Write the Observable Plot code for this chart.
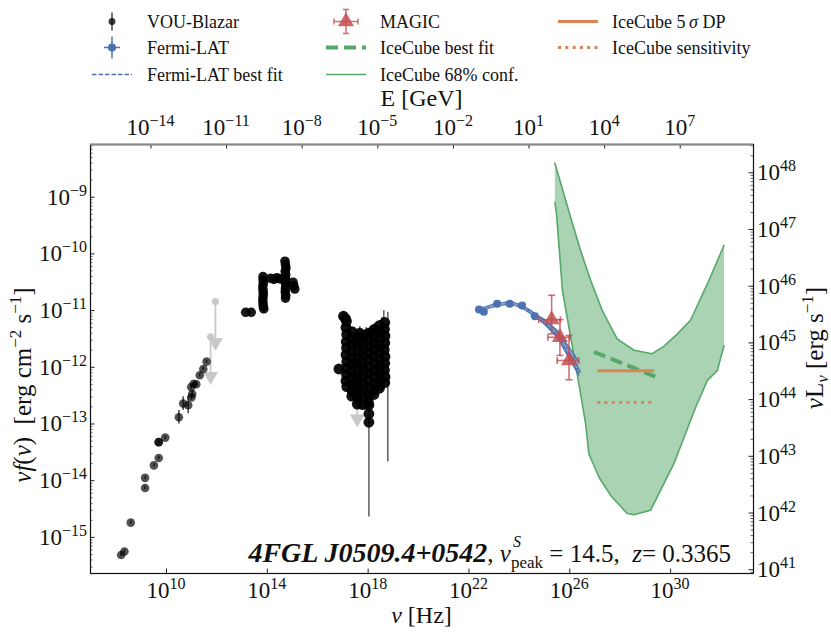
<!DOCTYPE html>
<html><head><meta charset="utf-8">
<script src="https://cdn.jsdelivr.net/npm/d3@7"></script>
<script src="https://cdn.jsdelivr.net/npm/@observablehq/plot@0.6"></script>
<style>
body{margin:0;background:#fff;}
svg{font-family:"Liberation Serif","DejaVu Serif",serif;}
text{white-space:pre;}
</style>
</head><body><div id="chart"></div>
<script>
// ---------------- DATA (log10 ν [Hz], log10 νFν [erg cm^-2 s^-1]) ----------------
// VOU-Blazar radio / mm points: [logν, logF, err(dex)]
const vouRadio = [
 [8.20,-15.31,0.03],[8.33,-15.25,0.03],[8.58,-14.74,0.03],[9.15,-13.95,0.03],[9.15,-14.13,0.03],
 [9.50,-13.73,0.03],[9.69,-13.60,0.03],[9.69,-13.32,0.02],[9.69,-13.32,0.02],[9.95,-13.24,0.03],
 [10.49,-12.88,0.12],[10.66,-12.64,0.12],[10.86,-12.67,0.15],[10.99,-12.53,0.05],[11.02,-12.47,0.05],
 [10.98,-12.35,0.04],[11.18,-12.30,0.03],[11.08,-12.29,0.03],[11.32,-12.14,0.03],[11.46,-12.03,0.03],[11.59,-11.90,0.03]
];
// VOU-Blazar IR / optical / UV points
const vouOptical = [
 [13.14,-11.03],[13.36,-11.03],[13.86,-10.97],
 [13.83,-10.40],[13.83,-10.46],[13.84,-10.52],[13.82,-10.58],[13.83,-10.64],[13.84,-10.70],[13.83,-10.76],[13.82,-10.82],[13.83,-10.88],[13.84,-10.93],
 [14.13,-10.43],[14.26,-10.45],[14.38,-10.42],[14.50,-10.44],
 [14.70,-10.13],[14.72,-10.19],[14.74,-10.25],[14.71,-10.31],[14.73,-10.37],[14.72,-10.43],[14.70,-10.49],[14.73,-10.55],[14.72,-10.61],[14.71,-10.67],[14.73,-10.73],[14.72,-10.78],
 [15.02,-10.50],[15.09,-10.62],[15.05,-10.56]
];
// VOU-Blazar X-ray points
const vouXray = [
 [17.02,-11.10],[17.10,-11.14],[16.84,-12.03],[17.57,-12.22],
 [17.14,-11.19],[17.12,-11.30],[17.15,-11.42],[17.13,-11.55],[17.14,-11.66],[17.12,-11.78],[17.15,-11.90],[17.13,-12.02],[17.14,-12.13],[17.12,-12.24],[17.15,-12.34],
 [17.36,-11.37],[17.35,-11.48],[17.37,-11.60],[17.36,-11.72],[17.34,-11.83],[17.37,-11.95],[17.36,-12.07],[17.35,-12.18],[17.37,-12.30],[17.36,-12.42],[17.35,-12.51],
 [17.58,-11.47],[17.57,-11.58],[17.59,-11.70],[17.58,-11.82],[17.56,-11.93],[17.59,-12.05],[17.58,-12.17],[17.57,-12.29],[17.59,-12.41],[17.58,-12.54],[17.57,-12.65],
 [17.80,-11.46],[17.79,-11.57],[17.81,-11.69],[17.80,-11.80],[17.78,-11.92],[17.81,-12.04],[17.80,-12.16],[17.79,-12.28],[17.81,-12.40],[17.80,-12.52],[17.79,-12.66],
 [18.02,-11.40],[18.01,-11.52],[18.03,-11.63],[18.02,-11.75],[18.00,-11.87],[18.03,-11.99],[18.02,-12.11],[18.01,-12.23],[18.03,-12.36],[18.02,-12.49],[18.01,-12.61],
 [18.24,-11.33],[18.23,-11.45],[18.25,-11.57],[18.24,-11.69],[18.22,-11.81],[18.25,-11.93],[18.24,-12.05],[18.23,-12.17],[18.25,-12.29],[18.24,-12.40],[18.23,-12.48],
 [18.46,-11.26],[18.45,-11.37],[18.47,-11.49],[18.46,-11.61],[18.44,-11.73],[18.47,-11.85],[18.46,-11.97],[18.45,-12.09],[18.47,-12.21],[18.46,-12.30],[18.45,-12.37],
 [18.66,-11.21],[18.65,-11.33],[18.67,-11.45],[18.66,-11.57],[18.64,-11.69],[18.67,-11.81],[18.66,-11.93],[18.65,-12.05],[18.67,-12.17],[18.66,-12.27],
 [18.03,-12.67],[18.03,-12.82],[18.03,-12.97],[17.67,-11.40],[17.92,-11.43],[18.25,-11.35]
];
// X-ray error bars: [logν, logF high, logF low]
const vouXrayErr = [
 [18.78,-11.03,-13.67],[18.03,-12.40,-14.64],[17.67,-11.28,-11.55],[17.92,-11.30,-11.56],
 [18.25,-11.22,-11.50],[18.55,-11.12,-11.45],[18.62,-11.00,-11.40]
];
// VOU-Blazar upper limits: [logν, logF, arrow tip logF]
const vouUpperLimits = [[11.75,-11.46,-12.22],[11.94,-10.84,-11.62],[17.57,-12.45,-12.97]];

// Fermi-LAT points: [logν, logF, half bin width (dex)]
const fermiPoints = [[22.40,-10.98,0.12],[22.59,-11.02,0.15],[23.12,-10.88,0.15],[23.62,-10.88,0.15],[24.11,-10.91,0.15],[24.62,-11.10,0.15]];
// Fermi-LAT best fit (log-parabola)
const fermiFit = [
 [22.35,-11.00],[22.6,-10.96],[22.9,-10.92],[23.2,-10.89],[23.5,-10.87],[23.8,-10.88],[24.1,-10.93],
 [24.4,-11.01],[24.7,-11.11],[25.0,-11.20],[25.3,-11.31],[25.6,-11.46],[25.9,-11.69],[26.2,-11.94],[26.36,-12.07]
];
// Fermi-LAT fit uncertainty band: [logν, logF low, logF high]
const fermiBand = [
 [24.3,-11.00,-10.96],[24.6,-11.10,-11.05],[25.0,-11.24,-11.16],[25.5,-11.47,-11.35],
 [26.0,-11.86,-11.66],[26.36,-12.14,-11.90]
];
// MAGIC: [logν, logF, ν low, ν high, F low, F high]
const magicPoints = [
 [25.28,-11.16,24.77,25.63,-11.41,-10.73],
 [25.61,-11.47,25.13,26.00,-11.79,-11.16],
 [25.97,-11.88,25.50,26.36,-12.22,-11.44]
];
// IceCube 68% confidence region edges
const iceUpper = [
 [25.41,-8.40],[26.03,-9.35],[26.43,-9.94],[26.83,-10.47],[27.29,-11.00],[27.88,-11.50],
 [28.55,-11.70],[29.27,-11.76],[29.73,-11.63],[30.27,-11.41],[30.79,-11.17],[31.46,-10.53],[32.12,-9.85]
];
const iceLower = [
 [25.41,-9.09],[25.48,-9.32],[25.71,-10.65],[26.06,-11.53],[26.36,-12.29],[26.63,-13.00],[26.76,-13.53],
 [27.16,-13.94],[27.62,-14.26],[28.28,-14.58],[28.54,-14.60],[29.21,-14.52],[30.13,-13.70],
 [31.00,-12.70],[31.46,-12.23],[31.85,-12.06],[32.12,-11.62]
];
const iceBestFit = [[26.96,-11.73],[29.54,-12.19]];
const ice5sigmaDP = [[27.09,-12.06],[29.34,-12.06]];
const iceSensitivity = [[27.09,-12.62],[29.34,-12.62]];

// axis tick exponents
const xTickExp = [10,14,18,22,26,30];
const yTickExp = [-15,-14,-13,-12,-11,-10,-9];
const eTickExp = [-14,-11,-8,-5,-2,1,4,7];
const lTickExp = [41,42,43,44,45,46,47,48];
const lumOffset = 56.57;   // log10(4π d_L^2), z = 0.3365
const eOffset = 23.3834;   // log10(1 GeV / h) in Hz

// ---------------- PLOT ----------------
const W = 831, H = 636;
const mL = 90, mR = 78, mT = 144, mB = 63;
const fw = W - mL - mR, fh = H - mT - mB;
const green = "#55A868", blue = "#4C72B0", red = "#C44E52", orange = "#DD8452", ulGray = "#c8c8c8";
const P = ([a, b]) => ({x: 10 ** a, y: 10 ** b});

const hCap = {draw(ctx){ ctx.moveTo(-3.5, 0); ctx.lineTo(3.5, 0); }};
const vCap = {draw(ctx){ ctx.moveTo(0, -3.5); ctx.lineTo(0, 3.5); }};

const yDom = [10 ** -15.637, 10 ** -8.0705];
const xDom = [10 ** 6.984, 10 ** 33.29];
const inY = v => v >= yDom[0] && v <= yDom[1];

const yMinor = [];
for (let k = -16; k <= -8; k++) for (let m = 2; m <= 9; m++) { const v = m * 10 ** k; if (inY(v)) yMinor.push(v); }
const rMinor = [];
for (let k = 40; k <= 48; k++) for (let m = 2; m <= 9; m++) { const v = m * 10 ** (k - lumOffset); if (inY(v)) rMinor.push(v); }
const rMajor = lTickExp.map(k => 10 ** (k - lumOffset)).filter(inY);
const eMajor = eTickExp.map(k => 10 ** (k + eOffset));

const magic = magicPoints.map(d => ({x: 10**d[0], y: 10**d[1], x1: 10**d[2], x2: 10**d[3], y1: 10**d[4], y2: 10**d[5]}));

const plot = Plot.plot({
  width: W, height: H,
  marginLeft: mL, marginRight: mR, marginTop: mT, marginBottom: mB,
  x: {type: "log", domain: xDom, axis: null},
  y: {type: "log", domain: yDom, axis: null},
  style: {background: "#fff"},
  marks: [
    // IceCube 68% band
    Plot.line([...iceUpper, ...iceLower.slice().reverse()].map(P), {x: "x", y: "y", fill: green, fillOpacity: 0.5, stroke: "none"}),
    Plot.line(iceUpper.map(P), {x: "x", y: "y", stroke: green, strokeWidth: 1.6}),
    Plot.line(iceLower.map(P), {x: "x", y: "y", stroke: green, strokeWidth: 1.6}),
    // VOU upper limits
    Plot.ruleX(vouUpperLimits, {x: d => 10**d[0], y1: d => 10**d[1], y2: d => 10**d[2], stroke: ulGray, strokeWidth: 1.8}),
    Plot.dot(vouUpperLimits, {x: d => 10**d[0], y: d => 10**d[1], r: 3.5, fill: ulGray}),
    Plot.dot(vouUpperLimits, {x: d => 10**d[0], y: d => 10**(d[2] + 0.06), r: 5.5, symbol: "triangle", rotate: 180, fill: ulGray}),
    // VOU radio
    Plot.ruleX(vouRadio, {x: d => 10**d[0], y1: d => 10**(d[1]-d[2]), y2: d => 10**(d[1]+d[2]), stroke: "#444", strokeWidth: 1.5}),
    Plot.dot(vouRadio, {x: d => 10**d[0], y: d => 10**d[1], r: 4.3, fill: "#000", fillOpacity: 0.68}),
    // VOU optical
    Plot.dot(vouOptical, {x: d => 10**d[0], y: d => 10**d[1], r: 4.8, fill: "#000", fillOpacity: 0.9}),
    // VOU X-ray
    Plot.ruleX(vouXrayErr, {x: d => 10**d[0], y1: d => 10**d[1], y2: d => 10**d[2], stroke: "#000", strokeOpacity: 0.6, strokeWidth: 1.6}),
    Plot.dot(vouXray, {x: d => 10**d[0], y: d => 10**d[1], r: 5.4, fill: "#000", fillOpacity: 0.93}),
    // Fermi-LAT
    Plot.areaY(fermiBand, {x: d => 10**d[0], y1: d => 10**d[1], y2: d => 10**d[2], fill: blue, fillOpacity: 0.35}),
    Plot.line(fermiBand, {x: d => 10**d[0], y: d => 10**d[1], stroke: blue, strokeWidth: 1.3}),
    Plot.line(fermiBand, {x: d => 10**d[0], y: d => 10**d[2], stroke: blue, strokeWidth: 1.3}),
    Plot.line(fermiFit.map(P), {x: "x", y: "y", stroke: blue, strokeWidth: 4, strokeOpacity: 0.85}),
    Plot.line(fermiFit.map(P), {x: "x", y: "y", stroke: "#9fb3d8", strokeWidth: 1, strokeDasharray: "4,2", strokeLinecap: "butt"}),
    Plot.ruleY(fermiPoints, {y: d => 10**d[1], x1: d => 10**(d[0]-d[2]), x2: d => 10**(d[0]+d[2]), stroke: blue, strokeWidth: 2}),
    Plot.dot(fermiPoints, {x: d => 10**d[0], y: d => 10**d[1], r: 4, fill: blue}),
    // MAGIC
    Plot.ruleX(magic, {x: "x", y1: "y1", y2: "y2", stroke: red, strokeOpacity: 0.8, strokeWidth: 1.6}),
    Plot.ruleY(magic, {y: "y", x1: "x1", x2: "x2", stroke: red, strokeOpacity: 0.8, strokeWidth: 1.6}),
    Plot.dot(magic, {x: "x", y: "y1", symbol: hCap, stroke: red, strokeOpacity: 0.8, strokeWidth: 1.6}),
    Plot.dot(magic, {x: "x", y: "y2", symbol: hCap, stroke: red, strokeOpacity: 0.8, strokeWidth: 1.6}),
    Plot.dot(magic, {x: "x1", y: "y", symbol: vCap, stroke: red, strokeOpacity: 0.8, strokeWidth: 1.6}),
    Plot.dot(magic, {x: "x2", y: "y", symbol: vCap, stroke: red, strokeOpacity: 0.8, strokeWidth: 1.6}),
    Plot.dot(magic, {x: "x", y: "y", symbol: "triangle", r: 6, fill: red, fillOpacity: 0.85}),
    // IceCube lines
    Plot.line(iceBestFit.map(P), {x: "x", y: "y", stroke: green, strokeWidth: 4, strokeDasharray: "12,6", strokeLinecap: "butt"}),
    Plot.line(ice5sigmaDP.map(P), {x: "x", y: "y", stroke: orange, strokeWidth: 3, strokeLinecap: "butt"}),
    Plot.line(iceSensitivity.map(P), {x: "x", y: "y", stroke: orange, strokeWidth: 3, strokeDasharray: "3,4.3", strokeLinecap: "butt"}),
    // ticks (inward)
    Plot.ruleX(xTickExp.map(k => 10**k), {insetTop: fh - 4.5, stroke: "#222"}),
    Plot.ruleX(eMajor, {insetBottom: fh - 4.5, stroke: "#222"}),
    Plot.ruleY(yTickExp.map(k => 10**k), {insetRight: fw - 4.5, stroke: "#222"}),
    Plot.ruleY(yMinor, {insetRight: fw - 2.5, stroke: "#444", strokeWidth: 0.8}),
    Plot.ruleY(rMajor, {insetLeft: fw - 4.5, stroke: "#222"}),
    Plot.ruleY(rMinor, {insetLeft: fw - 2.5, stroke: "#444", strokeWidth: 0.8}),
    Plot.frame({stroke: "#111", strokeWidth: 1.2}),
    Plot.ruleY([yDom[1]], {stroke: "#888", strokeWidth: 2})
  ]
});
document.getElementById("chart").appendChild(plot);

// ---------------- TEXT: tick labels, axis labels, legend ----------------
const svg = d3.select(plot);
const xs = plot.scale("x"), ys = plot.scale("y");
const g = svg.append("g").attr("fill", "#111").attr("text-anchor", "start");

function rich(parent, parts, attrs) {
  const t = parent.append("text");
  for (const k in attrs) t.attr(k, attrs[k]);
  parts.forEach(p => {
    const s = t.append("tspan").text(p.t);
    if (p.style) s.attr("font-style", p.style);
    if (p.w) s.attr("font-weight", p.w);
    if (p.dy) s.attr("dy", p.dy);
    if (p.size) s.attr("font-size", p.size);
    if (p.cls) s.attr("class", p.cls);
  });
  return t;
}
const sup = e => [{t: "10"}, {t: String(e).replace("-", "\u2212"), dy: -9, size: 16}];

xTickExp.forEach(k => rich(g, sup(k), {x: xs.apply(10**k), y: 598, "text-anchor": "middle", "font-size": 23}));
eTickExp.forEach(k => rich(g, sup(k), {x: xs.apply(10**(k + eOffset)), y: 135, "text-anchor": "middle", "font-size": 23}));
yTickExp.forEach(k => rich(g, sup(k), {x: 87, y: ys.apply(10**k) + 8, "text-anchor": "end", "font-size": 23}));
lTickExp.forEach(k => { const v = 10**(k - lumOffset); if (inY(v)) rich(g, sup(k), {x: 757, y: ys.apply(v) + 8, "text-anchor": "start", "font-size": 23}); });

// axis labels
rich(g, [{t: "E [GeV]"}], {x: (mL + W - mR) / 2, y: 106, "text-anchor": "middle", "font-size": 24});
rich(g, [{t: "\u03bd", style: "italic"}, {t: " [Hz]"}], {x: (mL + W - mR) / 2, y: 623, "text-anchor": "middle", "font-size": 24});
rich(g, [{t: "\u03bd", style: "italic"}, {t: "f", style: "italic"}, {t: "("}, {t: "\u03bd", style: "italic"}, {t: ")  [erg cm"}, {t: "\u22122", dy: -10, size: 17}, {t: " s", dy: 10}, {t: "\u22121", dy: -10, size: 17}, {t: "]", dy: 10}],
  {transform: "translate(31,385) rotate(-90)", "text-anchor": "middle", "font-size": 25});
rich(g, [{t: "\u03bd", style: "italic"}, {t: "L"}, {t: "\u03bd", style: "italic", dy: 5, size: 17}, {t: " [erg s", dy: -5}, {t: "\u22121", dy: -10, size: 17}, {t: "]", dy: 10}],
  {transform: "translate(823,348) rotate(-90)", "text-anchor": "middle", "font-size": 25});

// annotation
const ann = rich(g, [
  {t: "4FGL J0509.4+0542", style: "italic", w: "bold", size: 28},
  {t: ", "}, {t: "\u03bd", style: "italic"},
  {t: "peak", dy: 6, size: 17, cls: "peak"},
  {t: " = 14.5,  ", dy: -6}, {t: "z", style: "italic"}, {t: "= 0.3365"}
], {x: 731, y: 562, "text-anchor": "end", "font-size": 25});
const peakNode = ann.select("tspan.peak").node();
const px = peakNode.getStartPositionOfChar(0).x;
g.append("text").attr("x", px + 2).attr("y", 547).attr("font-size", 16).attr("font-style", "italic").text("S");

// legend
const L = svg.append("g").attr("text-anchor", "start");
const rowsY = [21.5, 47.5, 74.5];
function legText(x, y, s) { return L.append("text").attr("x", x).attr("y", y + 6).attr("font-size", 18).attr("fill", "#111").attr("text-anchor", "start").text(s); }
// col 1
{
  const cx = 112;
  L.append("line").attr("x1", cx).attr("x2", cx).attr("y1", rowsY[0] - 9).attr("y2", rowsY[0] + 9).attr("stroke", "#444").attr("stroke-width", 1.5);
  L.append("circle").attr("cx", cx).attr("cy", rowsY[0]).attr("r", 3.5).attr("fill", "#000").attr("fill-opacity", 0.75);
  legText(147, rowsY[0], "VOU-Blazar");
  L.append("line").attr("x1", cx).attr("x2", cx).attr("y1", rowsY[1] - 11).attr("y2", rowsY[1] + 11).attr("stroke", blue).attr("stroke-width", 1.5);
  L.append("line").attr("x1", cx - 8).attr("x2", cx + 8).attr("y1", rowsY[1]).attr("y2", rowsY[1]).attr("stroke", blue).attr("stroke-width", 1.5);
  L.append("circle").attr("cx", cx).attr("cy", rowsY[1]).attr("r", 4).attr("fill", blue);
  legText(147, rowsY[1], "Fermi-LAT");
  L.append("line").attr("x1", 92).attr("x2", 132).attr("y1", rowsY[2]).attr("y2", rowsY[2]).attr("stroke", blue).attr("stroke-width", 1.3).attr("stroke-dasharray", "4.5,2");
  legText(147, rowsY[2], "Fermi-LAT best fit");
}
// col 2
{
  const cx = 346, y = rowsY[0];
  const s = L.append("g").attr("stroke", red).attr("stroke-opacity", 0.8).attr("stroke-width", 1.5);
  s.append("line").attr("x1", cx).attr("x2", cx).attr("y1", y - 12).attr("y2", y + 12);
  s.append("line").attr("x1", cx - 12).attr("x2", cx + 12).attr("y1", y).attr("y2", y);
  s.append("line").attr("x1", cx - 3).attr("x2", cx + 3).attr("y1", y - 12).attr("y2", y - 12);
  s.append("line").attr("x1", cx - 3).attr("x2", cx + 3).attr("y1", y + 12).attr("y2", y + 12);
  s.append("line").attr("x1", cx - 12).attr("x2", cx - 12).attr("y1", y - 3).attr("y2", y + 3);
  s.append("line").attr("x1", cx + 12).attr("x2", cx + 12).attr("y1", y - 3).attr("y2", y + 3);
  L.append("path").attr("d", d3.symbol(d3.symbolTriangle, 113)()).attr("transform", `translate(${cx},${y})`).attr("fill", red).attr("fill-opacity", 0.85);
  legText(380, rowsY[0], "MAGIC");
  L.append("line").attr("x1", 326).attr("x2", 366).attr("y1", rowsY[1]).attr("y2", rowsY[1]).attr("stroke", green).attr("stroke-width", 4).attr("stroke-dasharray", "12,6");
  legText(380, rowsY[1], "IceCube best fit");
  L.append("line").attr("x1", 326).attr("x2", 366).attr("y1", rowsY[2]).attr("y2", rowsY[2]).attr("stroke", green).attr("stroke-width", 1.6);
  legText(380, rowsY[2], "IceCube 68% conf.");
}
// col 3
{
  L.append("line").attr("x1", 558).attr("x2", 598).attr("y1", rowsY[0]).attr("y2", rowsY[0]).attr("stroke", orange).attr("stroke-width", 3);
  const t = legText(612, rowsY[0], "IceCube 5");
  t.append("tspan").attr("font-style", "italic").text("\u2009\u03c3");
  t.append("tspan").text(" DP");
  L.append("line").attr("x1", 558).attr("x2", 598).attr("y1", rowsY[1]).attr("y2", rowsY[1]).attr("stroke", orange).attr("stroke-width", 3).attr("stroke-dasharray", "3,4.3");
  legText(612, rowsY[1], "IceCube sensitivity");
}
</script>
</body></html>
